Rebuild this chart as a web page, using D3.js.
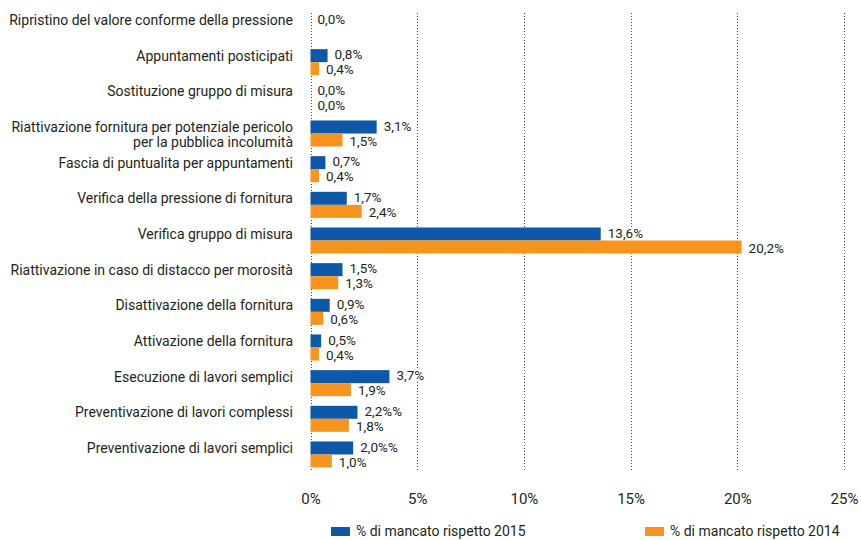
<!DOCTYPE html>
<html>
<head>
<meta charset="utf-8">
<script src="https://cdn.jsdelivr.net/npm/d3@7/dist/d3.min.js"></script>
<style>
  html, body { margin: 0; padding: 0; background: #fff; }
  svg { display: block; }
  text { font-family: "Roboto", "DejaVu Sans", sans-serif; fill: #231f20; }
</style>
</head>
<body>
<svg id="chart" width="861" height="540"></svg>
<script>
// Service categories (top to bottom); "\n" splits a label onto two lines
const categories = [
  "Ripristino del valore conforme della pressione",
  "Appuntamenti posticipati",
  "Sostituzione gruppo di misura",
  "Riattivazione fornitura per potenziale pericolo\nper la pubblica incolumità",
  "Fascia di puntualita per appuntamenti",
  "Verifica della pressione di fornitura",
  "Verifica gruppo di misura",
  "Riattivazione in caso di distacco per morosità",
  "Disattivazione della fornitura",
  "Attivazione della fornitura",
  "Esecuzione di lavori semplici",
  "Preventivazione di lavori complessi",
  "Preventivazione di lavori semplici"
];

// % of non-compliance per year
const values2015 = [0.0, 0.8, 0.0, 3.1, 0.7, 1.7, 13.6, 1.5, 0.9, 0.5, 3.7, 2.2, 2.0];
const values2014 = [null, 0.4, 0.0, 1.5, 0.4, 2.4, 20.2, 1.3, 0.6, 0.4, 1.9, 1.8, 1.0];

// Value labels as printed next to the bars
const labels2015 = ["0,0%", "0,8%", "0,0%", "3,1%", "0,7%", "1,7%", "13,6%", "1,5%", "0,9%", "0,5%", "3,7%", "2,2%%", "2,0%%"];
const labels2014 = [null, "0,4%", "0,0%", "1,5%", "0,4%", "2,4%", "20,2%", "1,3%", "0,6%", "0,4%", "1,9%", "1,8%", "1,0%"];

const xTicks = [0, 5, 10, 15, 20, 25];
const seriesNames = ["% di mancato rispetto 2015", "% di mancato rispetto 2014"];
const seriesKeys = ["y2015", "y2014"];
const labelKeys = ["l2015", "l2014"];
const colors = ["#0d59a7", "#f7941e"];

const rows = categories.map((c, i) => ({
  cat: c,
  y2015: values2015[i], y2014: values2014[i],
  l2015: labels2015[i], l2014: labels2014[i]
}));

const svg = d3.select("#chart");

const x = d3.scaleLinear().domain([0, 25]).range([310.5, 844]);
const y = d3.scaleBand().domain(categories).range([13.5, 467.5]).paddingInner(0.27).paddingOuter(0);
const ySub = d3.scaleBand().domain(seriesKeys).range([0, y.bandwidth()]);

// Dotted vertical gridlines (including the zero line)
svg.append("g")
  .selectAll("line")
  .data(xTicks)
  .join("line")
  .attr("x1", d => Math.round(x(d)) + 0.5)
  .attr("x2", d => Math.round(x(d)) + 0.5)
  .attr("y1", 13)
  .attr("y2", 471)
  .attr("stroke", "#444")
  .attr("stroke-width", 1)
  .attr("stroke-dasharray", "1,2");

// Bars
const groups = svg.append("g")
  .selectAll("g")
  .data(rows)
  .join("g")
  .attr("transform", d => `translate(0,${y(d.cat)})`);

seriesKeys.forEach((k, si) => {
  groups.filter(d => d[k] !== null)
    .append("rect")
    .attr("x", x(0))
    .attr("y", ySub(k))
    .attr("width", d => x(d[k]) - x(0))
    .attr("height", ySub.bandwidth())
    .attr("fill", colors[si]);
});

// Value labels: white backing boxes first, then the texts on top
const boxLayer = svg.append("g");
const labelLayer = svg.append("g");
seriesKeys.forEach((k, si) => {
  rows.filter(d => d[k] !== null).forEach(d => {
    const cy = y(d.cat) + ySub(k) + ySub.bandwidth() / 2 + (si === 0 ? -1 : 1);
    const t = labelLayer.append("text")
      .attr("x", x(d[k]) + 7)
      .attr("y", cy)
      .attr("dy", "0.35em")
      .attr("font-size", 13.5)
      .text(d[labelKeys[si]]);
    const bb = t.node().getBBox();
    boxLayer.append("rect")
      .attr("fill", "#fff")
      .attr("x", bb.x - 1)
      .attr("y", cy - 6)
      .attr("width", bb.width + 6)
      .attr("height", 12);
  });
});

// Category labels, right-aligned, first line centred on the 2015 bar
groups.append("text")
  .attr("text-anchor", "end")
  .attr("font-size", 14)
  .each(function(d) {
    const lines = d.cat.split("\n");
    const t = d3.select(this);
    lines.forEach((ln, i) => {
      t.append("tspan")
        .attr("x", 293)
        .attr("y", ySub("y2015") + ySub.bandwidth() / 2 + i * 15.5)
        .attr("dy", "0.35em")
        .text(ln);
    });
  });

// X axis tick labels
const xAxis = d3.axisBottom(x)
  .tickValues(xTicks)
  .tickFormat(d => d + "%")
  .tickSize(0)
  .tickPadding(0);

const ax = svg.append("g")
  .attr("transform", "translate(0,493)")
  .call(xAxis);
ax.select(".domain").remove();
ax.selectAll("text")
  .attr("font-size", 15)
  .attr("font-family", null)
  .attr("fill", "#231f20");

// Legend
const legendX = [331, 645];
const legend = svg.append("g")
  .selectAll("g")
  .data(seriesNames)
  .join("g")
  .attr("transform", (d, i) => `translate(${legendX[i]},531)`);
legend.append("rect")
  .attr("x", 0).attr("y", -4)
  .attr("width", 19).attr("height", 9)
  .attr("fill", (d, i) => colors[i]);
legend.append("text")
  .attr("x", 25)
  .attr("y", 0)
  .attr("dy", "0.35em")
  .attr("font-size", 14)
  .text(d => d);
</script>
</body>
</html>
